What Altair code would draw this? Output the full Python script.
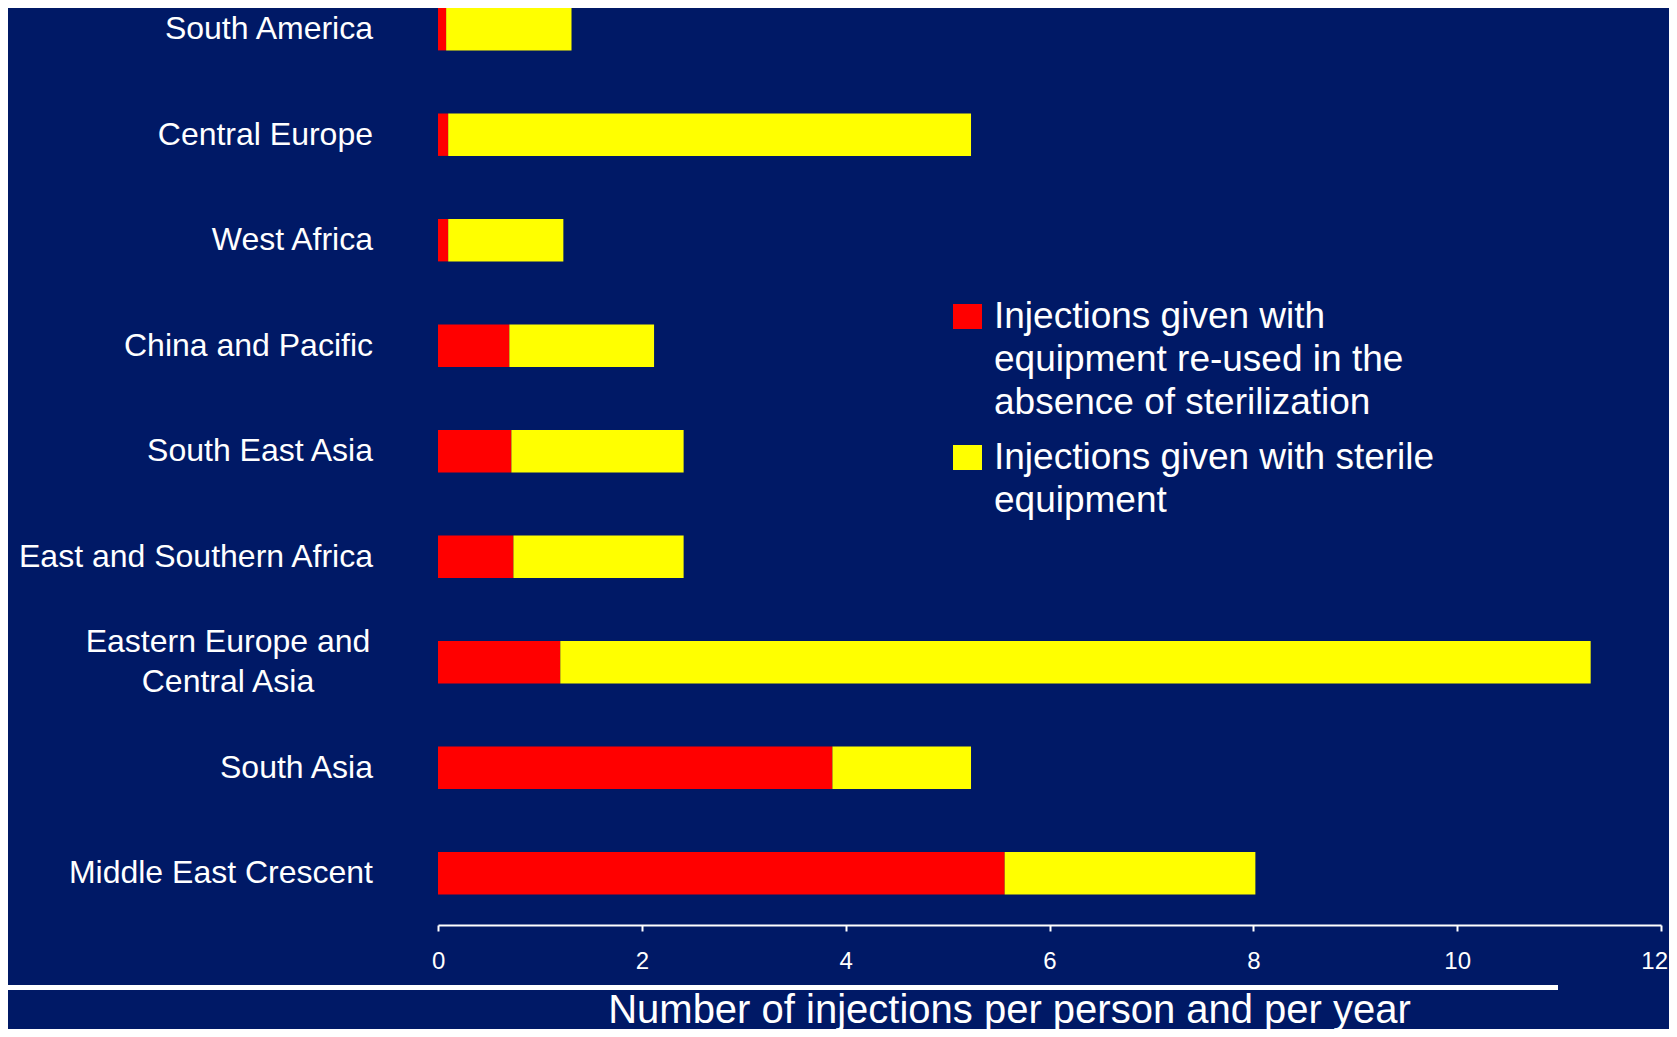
import altair as alt
import pandas as pd

# ---- data ----
regions = [
    "South America",
    "Central Europe",
    "West Africa",
    "China and Pacific",
    "South East Asia",
    "East and Southern Africa",
    "Eastern Europe and|Central Asia",
    "South Asia",
    "Middle East Crescent",
]
reused = [0.08, 0.10, 0.10, 0.70, 0.72, 0.74, 1.20, 3.87, 5.56]
sterile = [1.23, 5.13, 1.13, 1.42, 1.69, 1.67, 10.11, 1.36, 2.46]

series = [
    "Injections given with|equipment re-used in the|absence of sterilization",
    "Injections given with sterile|equipment",
]
colors = ["#FF0000", "#FFFF00"]
x_ticks = [0, 2, 4, 6, 8, 10, 12]
x_title = "Number of injections per person and per year"

rows = []
for r, a, b in zip(regions, reused, sterile):
    rows.append({"region": r, "series": series[0], "value": a, "k": 0})
    rows.append({"region": r, "series": series[1], "value": b, "k": 1})
df = pd.DataFrame(rows)
labels_df = pd.DataFrame({"region": regions})

FONT = "Liberation Sans"
BG = "#001966"

yscale = alt.Scale(paddingInner=0.598, paddingOuter=0.145, align=0)

bars = alt.Chart(df).mark_bar().encode(
    x=alt.X(
        "value:Q",
        stack="zero",
        scale=alt.Scale(domain=[0, 12], nice=False),
        axis=alt.Axis(
            values=x_ticks,
            title=x_title,
            grid=False,
            domainColor="white",
            domainWidth=2,
            tickColor="white",
            tickWidth=2,
            tickSize=6,
            labelColor="white",
            labelFont=FONT,
            labelFontSize=24,
            labelPadding=18,
            labelFlush=True,
            labelFlushOffset=6.5,
            labelOverlap=False,
            titleColor="white",
            titleFont=FONT,
            titleFontSize=40,
            titleFontWeight="normal",
            titleX=571,
            titleY=97,
            titleAlign="center",
            titleBaseline="alphabetic",
        ),
    ),
    y=alt.Y("region:N", sort=regions, scale=yscale, axis=None),
    color=alt.Color(
        "series:N",
        scale=alt.Scale(domain=series, range=colors),
        legend=alt.Legend(
            title=None,
            orient="none",
            legendX=511,
            legendY=290,
            padding=0,
            labelColor="white",
            labelFont=FONT,
            labelFontSize=37,
            labelLimit=1000,
            labelOffset=8,
            rowPadding=17,
            symbolType="M-1,-0.862H1V0.862H-1Z",
            symbolSize=841,
            symbolStrokeWidth=0,
            symbolOpacity=1,
            labelExpr="split(datum.label, '|')",
        ),
    ),
    order=alt.Order("k:Q"),
)

# region names (category labels), one line
names1 = alt.Chart(labels_df).transform_filter(
    "indexof(datum.region, '|') < 0"
).mark_text(
    align="right", baseline="middle", font=FONT, fontSize=32, color="white"
).encode(
    y=alt.Y("region:N", sort=regions, scale=yscale, axis=None),
    x=alt.value(-65),
    text="region:N",
)

# region names on two lines, centred
names2 = alt.Chart(labels_df).transform_filter(
    "indexof(datum.region, '|') >= 0"
).mark_text(
    align="center", baseline="middle", font=FONT, fontSize=32, color="white",
    lineBreak="|", lineHeight=40, dy=-20,
).encode(
    y=alt.Y("region:N", sort=regions, scale=yscale, axis=None),
    x=alt.value(-210),
    text="region:N",
)

rule = alt.Chart(pd.DataFrame({"z": [0]})).mark_rule(
    color="white", strokeWidth=5
).encode(x=alt.value(-430), x2=alt.value(1120), y=alt.value(979.5))

chart = (
    alt.layer(bars, names1, names2, rule)
    .properties(
        width=1223,
        height=917,
        padding={"left": 430, "top": 0, "right": 8, "bottom": 104},
        autosize=alt.AutoSizeParams(type="none"),
        background=BG,
    )
    .configure(style={"guide-label": {"lineHeight": 43}})
    .configure_view(stroke="transparent", strokeWidth=0)
)

chart.save("out.html", embed_options={"renderer": "svg", "actions": False})
